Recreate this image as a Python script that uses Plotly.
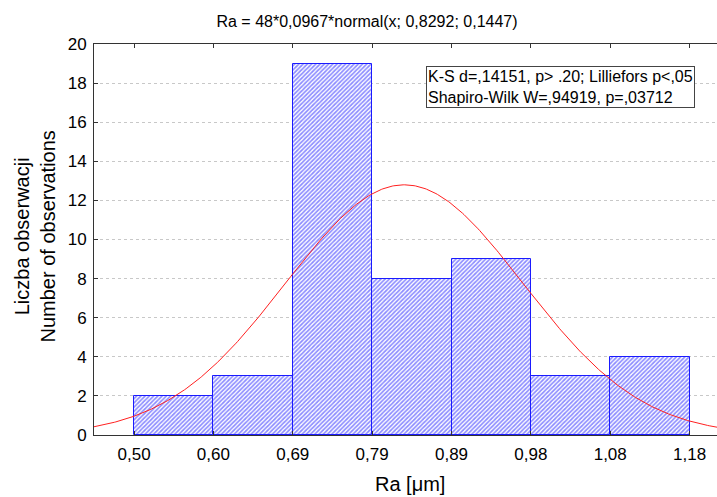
import numpy as np
import plotly.graph_objects as go

# Data
bin_start = 0.50
bin_width = 0.0967
counts = [2, 3, 19, 8, 9, 3, 4]
tick_labels = ["0,50", "0,60", "0,69", "0,79", "0,89", "0,98", "1,08", "1,18"]
n_obs = 48
mu = 0.8292
sigma = 0.1447
title_text = "Ra = 48*0,0967*normal(x; 0,8292; 0,1447)"
stats_lines = ["K-S d=,14151, p> .20; Lilliefors p<,05", "Shapiro-Wilk W=,94919, p=,03712"]

edges = [bin_start + i * bin_width for i in range(len(counts) + 1)]
centers = [bin_start + (i + 0.5) * bin_width for i in range(len(counts))]

x_min = bin_start - 0.0488
x_max = edges[-1] + 0.0334

xs = np.linspace(x_min, x_max, 400)
curve = n_obs * bin_width * np.exp(-0.5 * ((xs - mu) / sigma) ** 2) / (sigma * np.sqrt(2 * np.pi))

FONT = "Liberation Sans, Arial, sans-serif"
L, R, T, B = 94, 0, 44, 62
W, H = 717, 497
PW, PH = W - L - R, H - T - B

fig = go.Figure()
fig.add_trace(go.Bar(
    x=centers, y=counts, width=[bin_width] * len(counts),
    marker=dict(
        color="white",
        line=dict(color="#1a1aff", width=1),
        pattern=dict(shape="/", fgcolor="#1a1aff", bgcolor="white", size=3, solidity=0.55),
    ),
    showlegend=False, hoverinfo="skip",
))
fig.add_trace(go.Scatter(
    x=xs, y=curve, mode="lines", line=dict(color="#ff2020", width=1),
    showlegend=False, hoverinfo="skip",
))

fig.update_layout(
    width=W, height=H,
    margin=dict(l=L, r=R, t=T, b=B),
    paper_bgcolor="white", plot_bgcolor="white",
    font=dict(family=FONT, color="black"),
    bargap=0,
    title=dict(text=title_text, x=367 / W, xref="container", xanchor="center",
               y=1 - 21 / H, yref="container", yanchor="middle",
               font=dict(size=16, family=FONT, color="black")),
    xaxis=dict(
        range=[x_min, x_max], tickvals=edges, ticktext=tick_labels,
        ticks="inside", ticklen=4, tickcolor="#333", showline=True, linecolor="#333",
        linewidth=1, mirror="ticks", showgrid=False, zeroline=False,
        tickfont=dict(size=17), ticklabelstandoff=4, automargin=False,
    ),
    yaxis=dict(
        range=[0, 20], dtick=2, tick0=0,
        ticks="inside", ticklen=4, tickcolor="#333", showline=True, linecolor="#333",
        linewidth=1, mirror=False, showgrid=True, gridcolor="#c8c8c8", griddash="dot",
        gridwidth=1, zeroline=False, tickfont=dict(size=17), ticklabelstandoff=3,
        automargin=False,
    ),
    annotations=[
        dict(text="Liczba obserwacji<br>Number of observations", textangle=-90,
             xref="paper", yref="paper", x=(34 - L) / PW, y=(435 - 236.5) / PH,
             xanchor="center", yanchor="middle",
             showarrow=False, font=dict(size=20)),
        dict(text="Ra [μm]", xref="paper", yref="paper",
             x=(410 - L) / PW, y=(435 - 484) / PH, xanchor="center", yanchor="middle",
             showarrow=False, font=dict(size=20)),
        dict(text="<br>".join(stats_lines), xref="paper", yref="paper",
             x=(426 - L) / PW, y=(435 - 66) / PH, xanchor="left", yanchor="top",
             align="left", showarrow=False, bgcolor="white", bordercolor="#444",
             borderwidth=1, borderpad=1, font=dict(size=16)),
    ],
)

fig.write_html("out.html", config={"displayModeBar": False},
               post_script="document.body.style.margin='0';document.body.style.overflow='hidden';")
